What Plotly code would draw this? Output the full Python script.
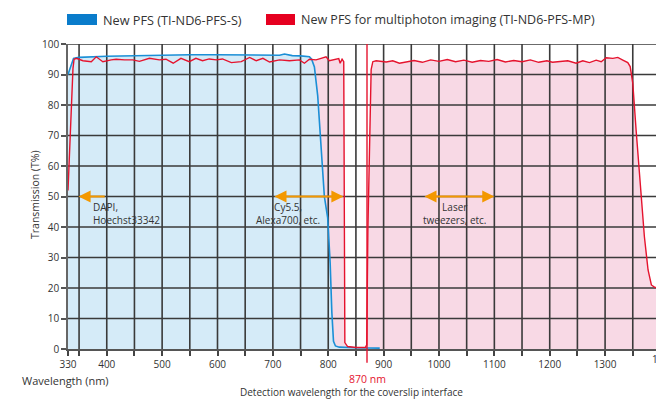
import numpy as np
import plotly.graph_objects as go

# ---------------- data ----------------
blue_nm = [330, 335, 340, 345, 350, 400, 450, 477, 500, 550, 598, 650, 688, 712, 721, 735, 750, 760,
           766, 770, 775, 781, 787, 793, 799, 803.5, 806.5, 809.5, 813, 820, 850, 880, 893]
blue_T = [90.0, 93.0, 95.3, 95.5, 95.6, 96.0, 96.2, 96.4, 96.4, 96.5, 96.5, 96.4, 96.4, 96.3, 96.7, 96.2, 96.1, 96.0,
          95.8, 95.0, 92.5, 83.0, 66.0, 50.0, 43.0, 28.0, 12.0, 2.5, 1.0, 0.6, 0.4, 0.3, 0.3]

red_nm = [330, 335, 339, 341, 345, 357, 372, 381, 393, 408, 417, 432, 447, 459, 477, 495, 507, 520, 534,
          549, 561, 573, 585, 598, 609, 625, 643, 658, 670, 682, 694, 712, 730, 748, 757, 766, 778, 787,
          796, 802, 811, 819, 821.5, 825, 828, 829, 829.5, 830, 835, 850, 867, 869.5, 871.6, 874.5, 877.5,
          880.5, 886.5, 904.6, 916.5, 928.6, 940.7, 955, 970, 985, 1000, 1015, 1030, 1045, 1060, 1075,
          1090, 1105, 1120, 1135, 1150, 1165, 1180, 1195, 1205, 1217.6, 1232.6, 1247.7, 1259.7, 1271.8,
          1283.9, 1293, 1302, 1314, 1323, 1332, 1341, 1345.3, 1350, 1356, 1365, 1371, 1377.6, 1383.6,
          1389.6, 1400]
red_T = [52.0, 75.0, 92.0, 95.0, 95.3, 94.5, 94.2, 95.8, 94.2, 94.8, 95.0, 94.8, 94.8, 94.3, 95.3, 94.8, 95.0,
         93.7, 95.3, 94.2, 95.3, 94.5, 95.1, 94.8, 95.1, 93.9, 94.2, 95.6, 94.5, 95.3, 94.1, 94.8, 94.5,
         94.8, 93.7, 95.0, 94.8, 95.3, 95.8, 94.5, 94.75, 95.2, 93.7, 95.0, 94.2, 7.3, 7.0, 2.1, 0.8, 0.5,
         0.5, 1.4, 39.0, 71.8, 91.6, 94.2, 94.5, 94.1, 94.5, 93.7, 94.2, 94.6, 94.0, 94.8, 94.3, 94.9, 94.2,
         94.7, 94.0, 94.6, 94.3, 94.9, 94.1, 94.6, 94.2, 94.8, 94.0, 94.5, 94.0, 94.2, 94.5, 93.7, 94.5,
         93.9, 94.7, 94.2, 95.5, 95.3, 95.6, 94.75, 93.9, 92.6, 87.2, 71.8, 50.0, 36.8, 25.9, 21.0, 20.2, 20.0]

x_tick_vals = [330] + list(range(350, 1401, 50))
x_tick_labels = ["330"] + [str(v) if v % 100 == 0 and v < 1400 else "" for v in range(350, 1401, 50)]
y_tick_vals = list(range(0, 101, 10))
grid_x = list(range(350, 1401, 50))
grid_y = list(range(10, 101, 10))

detect_nm = 870
arrow_y = 50
dapi_arrow = (399, 349)
cy_arrow = (700, 827.5)
laser_arrow = (971, 1100)

# ---------------- style ----------------
BLUE_LINE = "#1b8fd6"
BLUE_FILL = "#d5ebf8"
RED_LINE = "#e5132e"
RED_FILL = "#f8d9e5"
ORANGE = "#f39800"
TEXT = "#333333"
GRID = "#3a3a3a"
NARROW = "Liberation Sans Narrow, Arial Narrow, Open Sans, sans-serif"
REG = "Open Sans, sans-serif"

W, H = 656, 399
L, R, T, B = 68, 0, 44, 50
px_per_nm = 0.5537
x_end = 330 + (W - L - R) / px_per_nm
x_range = [330, x_end]

fig = go.Figure()
fig.add_trace(go.Scatter(x=red_nm, y=red_T, mode="lines", line=dict(width=0, color=RED_LINE),
                         fill="tozeroy", fillcolor=RED_FILL, hoverinfo="skip", showlegend=False))
fig.add_trace(go.Scatter(x=blue_nm, y=blue_T, mode="lines", line=dict(width=0, color=BLUE_LINE),
                         fill="tozeroy", fillcolor=BLUE_FILL, hoverinfo="skip", showlegend=False))

# grid drawn as a trace so it sits above the opaque fills
gx, gy = [], []
for v in grid_x:
    gx += [v, v, None]
    gy += [0, 100, None]
for v in grid_y:
    gx += [330, 1400, None]
    gy += [v, v, None]
fig.add_trace(go.Scatter(x=gx, y=gy, mode="lines", line=dict(color=GRID, width=1.6),
                         hoverinfo="skip", showlegend=False))

fig.add_trace(go.Scatter(x=blue_nm, y=blue_T, mode="lines", line=dict(width=1.6, color=BLUE_LINE),
                         name="New PFS (TI-ND6-PFS-S)", showlegend=False))
fig.add_trace(go.Scatter(x=red_nm, y=red_T, mode="lines", line=dict(width=1.4, color=RED_LINE),
                         name="New PFS for multiphoton imaging (TI-ND6-PFS-MP)", showlegend=False))

fig.update_layout(
    width=W, height=H, margin=dict(l=L, r=R, t=T, b=B),
    paper_bgcolor="white", plot_bgcolor="white",
    font=dict(family=NARROW, color=TEXT, size=10),
    xaxis=dict(range=x_range, tickmode="array", tickvals=x_tick_vals, ticktext=x_tick_labels,
               showgrid=False, zeroline=False, showline=True, linecolor="#555555", linewidth=1.5,
               ticks="outside", ticklen=5, tickwidth=1.5, tickcolor="#444444",
               tickfont=dict(family=NARROW, size=10, color=TEXT)),
    yaxis=dict(range=[0, 100], tickmode="array", tickvals=y_tick_vals,
               showgrid=False, zeroline=False, showline=True, linecolor="#666666", linewidth=1.5,
               ticks="outside", ticklen=5, tickwidth=1.5, tickcolor="#555555",
               tickfont=dict(family=NARROW, size=10, color=TEXT)),
)

# vertical detection line
fig.add_shape(type="line", xref="x", yref="paper", x0=detect_nm, x1=detect_nm, y0=-0.045, y1=1,
              line=dict(color=RED_LINE, width=1.4))

def arrow(x_from, x_to, both):
    fig.add_annotation(x=x_to, y=arrow_y, ax=x_from, ay=arrow_y, xref="x", yref="y", axref="x", ayref="y",
                       text="", showarrow=True, arrowhead=2, arrowsize=1.1, arrowwidth=2.2,
                       arrowcolor=ORANGE, arrowside="end+start" if both else "end",
                       startarrowhead=2, startarrowsize=1.1)

arrow(*dapi_arrow, False)
arrow(*cy_arrow, True)
arrow(*laser_arrow, True)

fig.add_annotation(x=371, y=arrow_y - 0.5, xref="x", yref="y", text="DAPI,<br>Hoechst33342",
                   showarrow=False, xanchor="left", yanchor="top", align="left",
                   font=dict(family=NARROW, size=10, color=TEXT))
fig.add_annotation(x=727, y=arrow_y - 0.5, xref="x", yref="y", text="Cy5.5,<br>Alexa700, etc.",
                   showarrow=False, xanchor="center", yanchor="top", align="center",
                   font=dict(family=NARROW, size=10, color=TEXT))
fig.add_annotation(x=1028, y=arrow_y - 0.5, xref="x", yref="y", text="Laser<br>tweezers, etc.",
                   showarrow=False, xanchor="center", yanchor="top", align="center",
                   font=dict(family=NARROW, size=10, color=TEXT))

def ppx(px):
    return (px - L) / (W - L - R)

def ppy(py):
    return (H - B - py) / (H - T - B)

# last tick label sits just outside the visible range (cut off at the edge, as in the reference)
fig.add_annotation(x=ppx(663), y=ppy(359), xref="paper", yref="paper", text="1400",
                   showarrow=False, xanchor="center", yanchor="middle", font=dict(family=NARROW, size=10, color=TEXT))

fig.add_annotation(x=ppx(35), y=ppy(195), xref="paper", yref="paper", text="Transmission (T%)",
                   textangle=-90, showarrow=False, xanchor="center", yanchor="middle",
                   font=dict(family=REG, size=10.5, color=TEXT))
fig.add_annotation(x=ppx(20), y=ppy(380), xref="paper", yref="paper", text="Wavelength (nm)",
                   showarrow=False, xanchor="left", yanchor="middle", font=dict(family=REG, size=11, color=TEXT))
fig.add_annotation(x=detect_nm, y=ppy(378.5), xref="x", yref="paper", text="870 nm",
                   showarrow=False, xanchor="center", yanchor="middle", font=dict(family=REG, size=10.5, color=RED_LINE))
fig.add_annotation(x=ppx(351), y=ppy(391.5), xref="paper", yref="paper",
                   text="Detection wavelength for the coverslip interface",
                   showarrow=False, xanchor="center", yanchor="middle", font=dict(family=REG, size=10, color=TEXT))

# legend
fig.add_shape(type="rect", xref="paper", yref="paper", x0=ppx(67), x1=ppx(97), y0=ppy(25), y1=ppy(14),
              fillcolor="#0a7ccb", line=dict(width=0))
fig.add_annotation(x=ppx(101), y=ppy(19.5), xref="paper", yref="paper", text="New PFS (TI-ND6-PFS-S)",
                   showarrow=False, xanchor="left", yanchor="middle", font=dict(family=REG, size=12.7, color=TEXT))
fig.add_shape(type="rect", xref="paper", yref="paper", x0=ppx(266), x1=ppx(295), y0=ppy(25), y1=ppy(14),
              fillcolor="#e60020", line=dict(width=0))
fig.add_annotation(x=ppx(299), y=ppy(19.5), xref="paper", yref="paper",
                   text="New PFS for multiphoton imaging (TI-ND6-PFS-MP)",
                   showarrow=False, xanchor="left", yanchor="middle", font=dict(family=REG, size=12.5, color=TEXT))

fig.write_html("out.html", config={"displayModeBar": False},
               post_script="document.body.style.margin='0';document.body.style.overflow='hidden';")
